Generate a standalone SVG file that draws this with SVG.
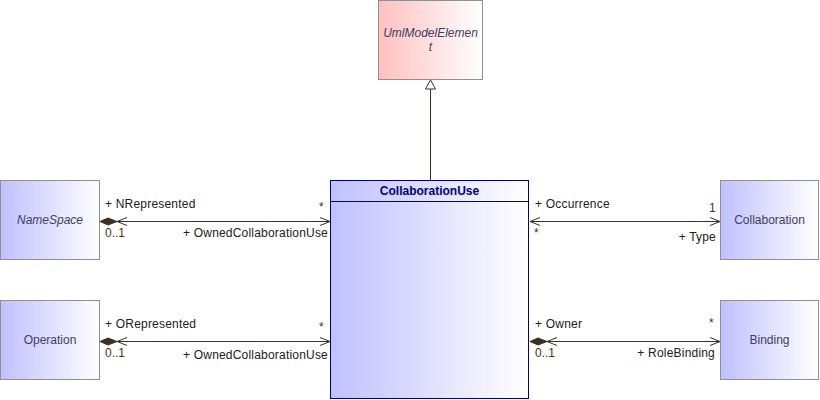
<svg xmlns="http://www.w3.org/2000/svg" width="820" height="400" viewBox="0 0 820 400">
<defs>
<linearGradient id="gBlue" x1="0" y1="0" x2="1" y2="0">
<stop offset="0" stop-color="#c0c0ff"/>
<stop offset="1" stop-color="#ffffff"/>
</linearGradient>
<linearGradient id="gRed" x1="0" y1="0" x2="1" y2="0">
<stop offset="0" stop-color="#ffc0c0"/>
<stop offset="1" stop-color="#ffffff"/>
</linearGradient>
<marker id="open" markerWidth="12" markerHeight="10" refX="10" refY="5" orient="auto" markerUnits="userSpaceOnUse">
<path d="M0,1 L10,5 L0,9" fill="none" stroke="#3c3020" stroke-width="1"/>
</marker>
<marker id="tri" markerWidth="14" markerHeight="12" refX="10" refY="6" orient="auto" markerUnits="userSpaceOnUse">
<path d="M1,1 L10,6 L1,11 Z" fill="#ffffff" stroke="#3c3020" stroke-width="1"/>
</marker>
</defs>
<style>
.box{stroke:#909090;stroke-width:1}
.name{font-family:"Liberation Sans",Arial,sans-serif;font-size:12px;fill:#404060;text-anchor:middle}
.it{font-style:italic}
.lbl{font-family:"Liberation Sans",Arial,sans-serif;font-size:12px;letter-spacing:0.2px;fill:#202020}
.mul{font-family:"Liberation Sans",Arial,sans-serif;font-size:12px;fill:#4a3010}
.end{text-anchor:end}
.ln{stroke:#3c3020;stroke-width:1;fill:none}
.dia{fill:#3c3020;stroke:#3c3020;stroke-width:1}
</style>
<rect width="820" height="400" fill="#ffffff"/>

<g id="UmlModelElement">
<rect class="box" x="378.5" y="0.5" width="104" height="79" fill="url(#gRed)"/>
<text class="name it" x="430.5" y="37">UmlModelElemen</text>
<text class="name it" x="430.5" y="51">t</text>
</g>

<g id="CollaborationUse">
<rect x="330.5" y="180.5" width="198" height="218" fill="url(#gBlue)" stroke="#000080" stroke-width="1"/>
<line x1="330.5" y1="201.5" x2="528.5" y2="201.5" stroke="#000080" stroke-width="1"/>
<text x="429.5" y="195" font-family="'Liberation Sans',Arial,sans-serif" font-size="12px" font-weight="bold" fill="#000080" text-anchor="middle">CollaborationUse</text>
</g>

<g id="NameSpace">
<rect class="box" x="0.5" y="180.5" width="99" height="79" fill="url(#gBlue)"/>
<text class="name it" x="50" y="224">NameSpace</text>
</g>

<g id="Operation">
<rect class="box" x="0.5" y="300.5" width="99" height="79" fill="url(#gBlue)"/>
<text class="name" x="50" y="344">Operation</text>
</g>

<g id="Collaboration">
<rect class="box" x="720.5" y="180.5" width="98" height="79" fill="url(#gBlue)"/>
<text class="name" x="769.5" y="224">Collaboration</text>
</g>

<g id="Binding">
<rect class="box" x="720.5" y="300.5" width="98" height="79" fill="url(#gBlue)"/>
<text class="name" x="769.5" y="344">Binding</text>
</g>

<g id="connectors">
<!-- Generalization -->
<line class="ln" x1="430.5" y1="180" x2="430.5" y2="80" marker-end="url(#tri)"/>

<!-- NameSpace - CollaborationUse -->
<line class="ln" x1="117" y1="221.5" x2="330" y2="221.5" marker-end="url(#open)"/>
<line class="ln" x1="300" y1="221.5" x2="117" y2="221.5" marker-end="url(#open)"/>
<path class="dia" d="M100,221.5 L108,218 L117,221.5 L108,225 Z"/>
<text class="lbl" x="105" y="208">+ NRepresented</text>
<text class="mul" x="105" y="237">0..1</text>
<text class="mul" x="319" y="211">*</text>
<text class="lbl end" x="328" y="237">+ OwnedCollaborationUse</text>

<!-- Operation - CollaborationUse -->
<line class="ln" x1="117" y1="341.5" x2="330" y2="341.5" marker-end="url(#open)"/>
<line class="ln" x1="300" y1="341.5" x2="117" y2="341.5" marker-end="url(#open)"/>
<path class="dia" d="M100,341.5 L108,338 L117,341.5 L108,345 Z"/>
<text class="lbl" x="105" y="328">+ ORepresented</text>
<text class="mul" x="105" y="357">0..1</text>
<text class="mul" x="319" y="331">*</text>
<text class="lbl end" x="328" y="359">+ OwnedCollaborationUse</text>

<!-- CollaborationUse - Collaboration -->
<line class="ln" x1="530" y1="221.5" x2="720" y2="221.5" marker-end="url(#open)"/>
<line class="ln" x1="700" y1="221.5" x2="530" y2="221.5" marker-end="url(#open)"/>
<text class="lbl" x="535" y="208">+ Occurrence</text>
<text class="mul" x="534" y="237">*</text>
<text class="mul" x="709" y="212" font-size="13px" fill="#7a4a00">1</text>
<text class="lbl end" x="716" y="241">+ Type</text>

<!-- CollaborationUse - Binding -->
<line class="ln" x1="547" y1="341.5" x2="720" y2="341.5" marker-end="url(#open)"/>
<line class="ln" x1="700" y1="341.5" x2="547" y2="341.5" marker-end="url(#open)"/>
<path class="dia" d="M530,341.5 L538,338 L547,341.5 L538,345 Z"/>
<text class="lbl" x="535" y="328">+ Owner</text>
<text class="mul" x="535" y="357">0..1</text>
<text class="mul" x="709" y="327">*</text>
<text class="lbl end" x="715" y="357">+ RoleBinding</text>
</g>
</svg>
